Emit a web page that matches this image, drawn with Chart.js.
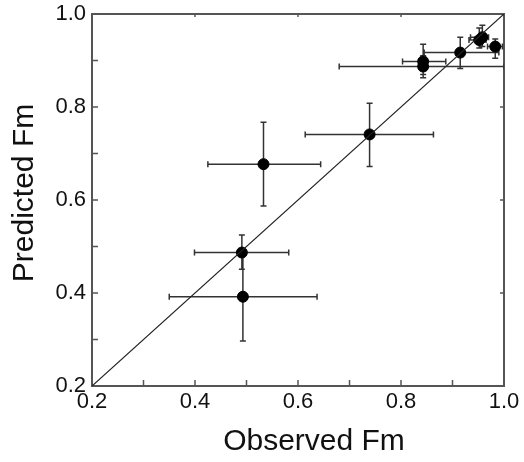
<html>
<head>
  <meta charset="utf-8">
  <title>Predicted vs Observed Fm</title>
  <script src="https://cdn.jsdelivr.net/npm/chart.js@4.4.0/dist/chart.umd.min.js"></script>
  <style>
    body { margin: 0; background: #fff; }
  </style>
</head>
<body>

<canvas id="myChart" width="524" height="462"></canvas>

<script>

const observed  = [0.533, 0.739, 0.491, 0.493, 0.843, 0.843, 0.915, 0.952, 0.958, 0.983];
const predicted = [0.677, 0.741, 0.487, 0.392, 0.898, 0.887, 0.917, 0.944, 0.950, 0.930];
const obsLow    = [0.425, 0.614, 0.399, 0.350, 0.803, 0.680, 0.845, 0.932, 0.935, 0.968];
const obsHigh   = [0.644, 0.863, 0.582, 0.637, 0.887, 1.000, 0.990, 0.965, 0.970, 0.997];
const predLow   = [0.587, 0.672, 0.451, 0.297, 0.870, 0.863, 0.883, 0.927, 0.930, 0.905];
const predHigh  = [0.767, 0.808, 0.525, 0.487, 0.935, 0.910, 0.950, 0.970, 0.976, 0.946];

const identityLine = [0.2, 1.0];

const xTitle = 'Observed Fm';
const yTitle = 'Predicted Fm';

const axisColor = '#555';
const titleFont = '30px "Liberation Sans"';

// error bars, frame and inward ticks
const extras = {
  id: 'extras',
  beforeDatasetsDraw(chart) {
    const ctx = chart.ctx;
    const xs = chart.scales.x, ys = chart.scales.y;
    const a = chart.chartArea;
    ctx.save();

    // frame
    ctx.strokeStyle = axisColor;
    ctx.lineWidth = 2;
    ctx.strokeRect(a.left, a.top, a.right - a.left, a.bottom - a.top);

    // ticks
    ctx.lineWidth = 1.5;
    ctx.beginPath();
    for (const t of xs.ticks) {
      const px = xs.getPixelForValue(t.value);
      ctx.moveTo(px, a.bottom); ctx.lineTo(px, a.bottom - 6);
      if (Math.round(t.value * 10) % 2 === 0) {
        ctx.moveTo(px, a.top); ctx.lineTo(px, a.top + 3);
      }
    }
    for (const t of ys.ticks) {
      const py = ys.getPixelForValue(t.value);
      ctx.moveTo(a.left, py); ctx.lineTo(a.left + 6, py);
      if (Math.round(t.value * 10) % 2 === 0) {
        ctx.moveTo(a.right, py); ctx.lineTo(a.right - 4, py);
      }
    }
    ctx.stroke();

    // error bars
    ctx.beginPath();
    ctx.rect(a.left, a.top, a.right - a.left, a.bottom - a.top);
    ctx.clip();
    ctx.strokeStyle = '#333';
    ctx.lineWidth = 1.5;
    ctx.beginPath();
    const cap = 3;
    for (let i = 0; i < observed.length; i++) {
      const cx = xs.getPixelForValue(observed[i]);
      const cy = ys.getPixelForValue(predicted[i]);
      const x0 = xs.getPixelForValue(obsLow[i]), x1 = xs.getPixelForValue(obsHigh[i]);
      const y0 = ys.getPixelForValue(predLow[i]), y1 = ys.getPixelForValue(predHigh[i]);
      ctx.moveTo(x0, cy); ctx.lineTo(x1, cy);
      ctx.moveTo(x0, cy - cap); ctx.lineTo(x0, cy + cap);
      ctx.moveTo(x1, cy - cap); ctx.lineTo(x1, cy + cap);
      ctx.moveTo(cx, y0); ctx.lineTo(cx, y1);
      ctx.moveTo(cx - cap, y0); ctx.lineTo(cx + cap, y0);
      ctx.moveTo(cx - cap, y1); ctx.lineTo(cx + cap, y1);
    }
    ctx.stroke();
    ctx.restore();
  },
  // axis titles, sitting a little off-centre like the original figure
  afterDraw(chart) {
    const ctx = chart.ctx;
    const a = chart.chartArea;
    ctx.save();
    ctx.fillStyle = '#111';
    ctx.font = titleFont;
    ctx.textAlign = 'center';
    ctx.textBaseline = 'middle';
    ctx.fillText(xTitle, (a.left + a.right) / 2 + 16, 442);
    ctx.translate(25, (a.top + a.bottom) / 2 - 7);
    ctx.rotate(-Math.PI / 2);
    ctx.fillText(yTitle, 0, 0);
    ctx.restore();
  }
};

const data = {
  datasets: [
    {
      label: 'y = x',
      type: 'line',
      data: identityLine.map(v => ({x: v, y: v})),
      borderColor: '#222',
      borderWidth: 1.2,
      pointRadius: 0,
      fill: false
    },
    {
      label: 'Fm',
      type: 'scatter',
      data: observed.map((v, i) => ({x: v, y: predicted[i]})),
      backgroundColor: '#000',
      borderColor: '#000',
      pointRadius: 5.5,
      pointHoverRadius: 5.5
    }
  ]
};

const tickFont = {family: 'Liberation Sans', size: 22};

const config = {
  type: 'scatter',
  data,
  options: {
    responsive: false,
    animation: false,
    layout: { padding: {top: 14, right: 20, left: 0, bottom: 0} },
    plugins: { legend: {display: false}, tooltip: {enabled: false} },
    scales: {
      x: {
        type: 'linear',
        min: 0.2, max: 1.0,
        grid: {display: false, drawTicks: false},
        border: {display: false},
        ticks: {
          stepSize: 0.1,
          color: '#111',
          font: tickFont,
          padding: 3,
          maxRotation: 0,
          callback: v => (Math.round(v * 10) % 2 === 0 ? v.toFixed(1) : '')
        },
        afterFit: s => { s.height = 76; s.paddingLeft = 0; s.paddingRight = 0; }
      },
      y: {
        type: 'linear',
        min: 0.2, max: 1.0,
        grid: {display: false, drawTicks: false},
        border: {display: false},
        ticks: {
          stepSize: 0.1,
          color: '#111',
          font: tickFont,
          padding: 6,
          callback: v => (Math.round(v * 10) % 2 === 0 ? v.toFixed(1) : '')
        },
        afterFit: s => { s.width = 92; s.paddingTop = 0; s.paddingBottom = 0; }
      }
    }
  },
  plugins: [extras]
};

var myChart = new Chart(document.getElementById('myChart'), config);

</script>

</body>
</html>
